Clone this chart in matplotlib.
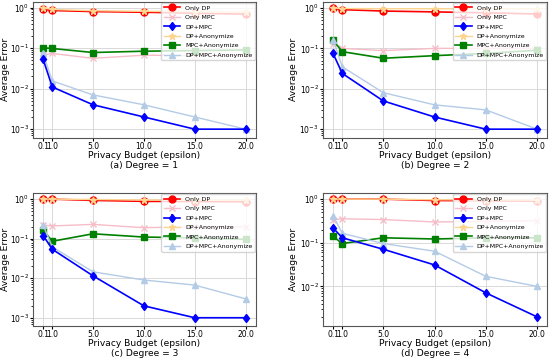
import numpy as np
import matplotlib.pyplot as plt

epsilons = [0.1, 1.0, 5.0, 10.0, 15.0, 20.0]
tick_labels = ['0.1', '1.0', '5.0', '10.0', '15.0', '20.0']
series_names = ['Only DP', 'Only MPC', 'DP+MPC', 'DP+Anonymize',
                'MPC+Anonymize', 'DP+MPC+Anonymize']
captions = ['(a) Degree = 1', '(b) Degree = 2', '(c) Degree = 3', '(d) Degree = 4']

# degree 1
only_dp_1 = [0.95, 0.85, 0.80, 0.77, 0.73, 0.69]
only_mpc_1 = [0.068, 0.074, 0.056, 0.067, 0.065, 0.066]
dp_mpc_1 = [0.053, 0.011, 0.004, 0.002, 0.001, 0.001]
dp_mpc_err_1 = [0.008, 0.0015, 0.0005, 0.0003, 0.00012, 0.00012]
dp_anon_1 = [0.98, 0.90, 0.84, 0.81, 0.79, 0.77]
mpc_anon_1 = [0.102, 0.098, 0.078, 0.084, 0.087, 0.09]
all3_1 = [0.074, 0.0155, 0.007, 0.004, 0.002, 0.001]

# degree 2
only_dp_2 = [1.0, 0.91, 0.84, 0.80, 0.76, 0.71]
only_mpc_2 = [0.13, 0.10, 0.088, 0.10, 0.10, 0.10]
dp_mpc_2 = [0.075, 0.024, 0.005, 0.002, 0.001, 0.001]
dp_mpc_err_2 = [0.012, 0.004, 0.0007, 0.0003, 0.00012, 0.00012]
dp_anon_2 = [1.0, 0.97, 0.96, 0.96, 0.95, 0.95]
mpc_anon_2 = [0.16, 0.083, 0.057, 0.066, 0.075, 0.09]
all3_2 = [0.165, 0.035, 0.008, 0.004, 0.003, 0.001]

# degree 3
only_dp_3 = [1.0, 1.0, 0.93, 0.88, 0.87, 0.86]
only_mpc_3 = [0.22, 0.21, 0.23, 0.19, 0.20, 0.20]
dp_mpc_3 = [0.12, 0.054, 0.0115, 0.002, 0.001, 0.001]
dp_mpc_err_3 = [0.02, 0.007, 0.0015, 0.0003, 0.00012, 0.00012]
dp_anon_3 = [1.0, 1.0, 0.98, 0.95, 0.94, 0.93]
mpc_anon_3 = [0.166, 0.086, 0.133, 0.11, 0.105, 0.096]
all3_3 = [0.22, 0.062, 0.0145, 0.009, 0.0067, 0.003]

# degree 4
only_dp_4 = [1.0, 1.0, 1.0, 0.93, 0.92, 0.90]
only_mpc_4 = [0.34, 0.355, 0.34, 0.30, 0.31, 0.32]
dp_mpc_4 = [0.22, 0.13, 0.071, 0.031, 0.0071, 0.002]
dp_mpc_err_4 = [0.04, 0.02, 0.01, 0.005, 0.001, 0.0003]
dp_anon_4 = [1.0, 1.0, 1.0, 0.97, 0.96, 0.95]
mpc_anon_4 = [0.14, 0.096, 0.13, 0.122, 0.13, 0.13]
all3_4 = [0.42, 0.165, 0.096, 0.064, 0.017, 0.01]

panels = [
    (only_dp_1, only_mpc_1, dp_mpc_1, dp_mpc_err_1, dp_anon_1, mpc_anon_1, all3_1),
    (only_dp_2, only_mpc_2, dp_mpc_2, dp_mpc_err_2, dp_anon_2, mpc_anon_2, all3_2),
    (only_dp_3, only_mpc_3, dp_mpc_3, dp_mpc_err_3, dp_anon_3, mpc_anon_3, all3_3),
    (only_dp_4, only_mpc_4, dp_mpc_4, dp_mpc_err_4, dp_anon_4, mpc_anon_4, all3_4),
]

positions = [
    [0.060, 0.621, 0.405, 0.374],
    [0.587, 0.621, 0.408, 0.374],
    [0.060, 0.102, 0.405, 0.366],
    [0.587, 0.102, 0.408, 0.366],
]
ylabel_x = [-0.105, -0.112, -0.105, -0.112]

fig = plt.figure(figsize=(5.5, 3.63), dpi=100)

for pos, data, cap, ylx in zip(positions, panels, captions, ylabel_x):
    only_dp, only_mpc, dp_mpc, dp_mpc_err, dp_anon, mpc_anon, all3 = data
    ax = fig.add_axes(pos)
    h1, = ax.plot(epsilons, only_dp, color='red', marker='o', ms=5, lw=1.2)
    h2, = ax.plot(epsilons, only_mpc, color='#f6bcc8', marker='x', ms=4.5, lw=1.0)
    h3 = ax.errorbar(epsilons, dp_mpc, yerr=dp_mpc_err, color='blue', marker='d',
                     ms=4.5, lw=1.2, elinewidth=1.2)
    h4, = ax.plot(epsilons, dp_anon, color='#fcd48e', marker='*', ms=5, lw=1.0)
    h5, = ax.plot(epsilons, mpc_anon, color='green', marker='s', ms=5, lw=1.2)
    h6, = ax.plot(epsilons, all3, color='#b4cbe6', marker='^', ms=5, lw=1.0)

    ax.set_yscale('log')
    ax.set_xticks(epsilons)
    ax.set_xticklabels(tick_labels)
    ax.tick_params(labelsize=5.5, length=2, pad=1)
    ax.tick_params(which='minor', length=1.2)
    ax.grid(True, color='#d9d9d9', lw=0.7)
    for s in ax.spines.values():
        s.set_color('#555555')
        s.set_linewidth(0.8)
    ax.set_xlabel('Privacy Budget (epsilon)', fontsize=6.6, labelpad=0)
    ax.set_ylabel('Average Error', fontsize=6.6)
    ax.yaxis.set_label_coords(ylx, 0.5)
    ax.legend([h1, h2, h3, h4, h5, h6], series_names, loc='upper right',
              fontsize=4.5, borderaxespad=0.15, handlelength=2.6,
              labelspacing=0.65, borderpad=0.4, framealpha=0.8)
    ax.text(0.5, -0.17, cap, transform=ax.transAxes, ha='center', va='top',
            fontsize=6.6)

fig.savefig('out.png', dpi=100)
